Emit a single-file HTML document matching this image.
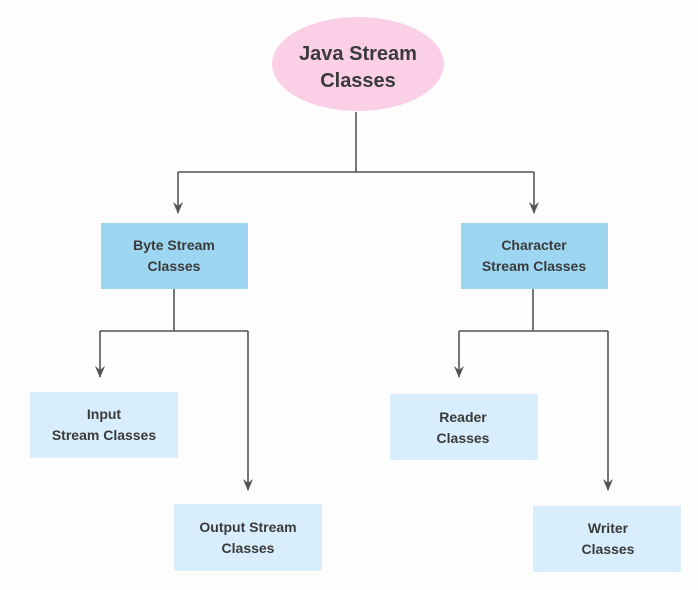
<!DOCTYPE html>
<html><head><meta charset="utf-8"><style>
body{margin:0;background:#fdfdfe;}
svg{display:block}
text{font-family:"Liberation Sans",sans-serif;fill:#3a3a3a;text-anchor:middle;}
</style></head><body>
<svg width="698" height="590" viewBox="0 0 698 590">
<defs><marker id="a" markerWidth="12" markerHeight="10" refX="11" refY="5" orient="auto" markerUnits="userSpaceOnUse">
<path d="M0,0 L12,5 L0,10 L4,5 Z" fill="#555"/></marker></defs>
<rect width="698" height="590" fill="#fdfdfe"/>
<ellipse cx="358" cy="64" rx="86" ry="47" fill="#fbcfe6"/>
<text x="358" y="60" font-size="20" font-weight="bold">Java Stream</text>
<text x="358" y="87" font-size="20" font-weight="bold">Classes</text>
<g stroke="#555" stroke-width="1.6" fill="none">
<path d="M356,112 V172 M178,172 H534"/>
<path d="M178,172 V213" marker-end="url(#a)"/>
<path d="M534,172 V213" marker-end="url(#a)"/>
<path d="M174,289 V331 M100,331 H248"/>
<path d="M100,331 V377" marker-end="url(#a)"/>
<path d="M248,331 V490" marker-end="url(#a)"/>
<path d="M533,289 V331 M459,331 H608"/>
<path d="M459,331 V377" marker-end="url(#a)"/>
<path d="M608,331 V490" marker-end="url(#a)"/>
</g>
<rect x="101" y="223" width="147" height="66" fill="#9dd6f1"/>
<text x="174" y="250" font-size="14" font-weight="bold">Byte Stream</text>
<text x="174" y="271" font-size="14" font-weight="bold">Classes</text>
<rect x="461" y="223" width="147" height="66" fill="#9dd6f1"/>
<text x="534" y="250" font-size="14" font-weight="bold">Character</text>
<text x="534" y="271" font-size="14" font-weight="bold">Stream Classes</text>
<rect x="30" y="392" width="148" height="66" fill="#d9eefc"/>
<text x="104" y="419" font-size="14" font-weight="bold">Input</text>
<text x="104" y="440" font-size="14" font-weight="bold">Stream Classes</text>
<rect x="174" y="504" width="148" height="67" fill="#d9eefc"/>
<text x="248" y="532" font-size="14" font-weight="bold">Output Stream</text>
<text x="248" y="553" font-size="14" font-weight="bold">Classes</text>
<rect x="390" y="394" width="148" height="66" fill="#d9eefc"/>
<text x="463" y="422" font-size="14" font-weight="bold">Reader</text>
<text x="463" y="443" font-size="14" font-weight="bold">Classes</text>
<rect x="533" y="506" width="148" height="66" fill="#d9eefc"/>
<text x="608" y="533" font-size="14" font-weight="bold">Writer</text>
<text x="608" y="554" font-size="14" font-weight="bold">Classes</text>
</svg>
</body></html>
